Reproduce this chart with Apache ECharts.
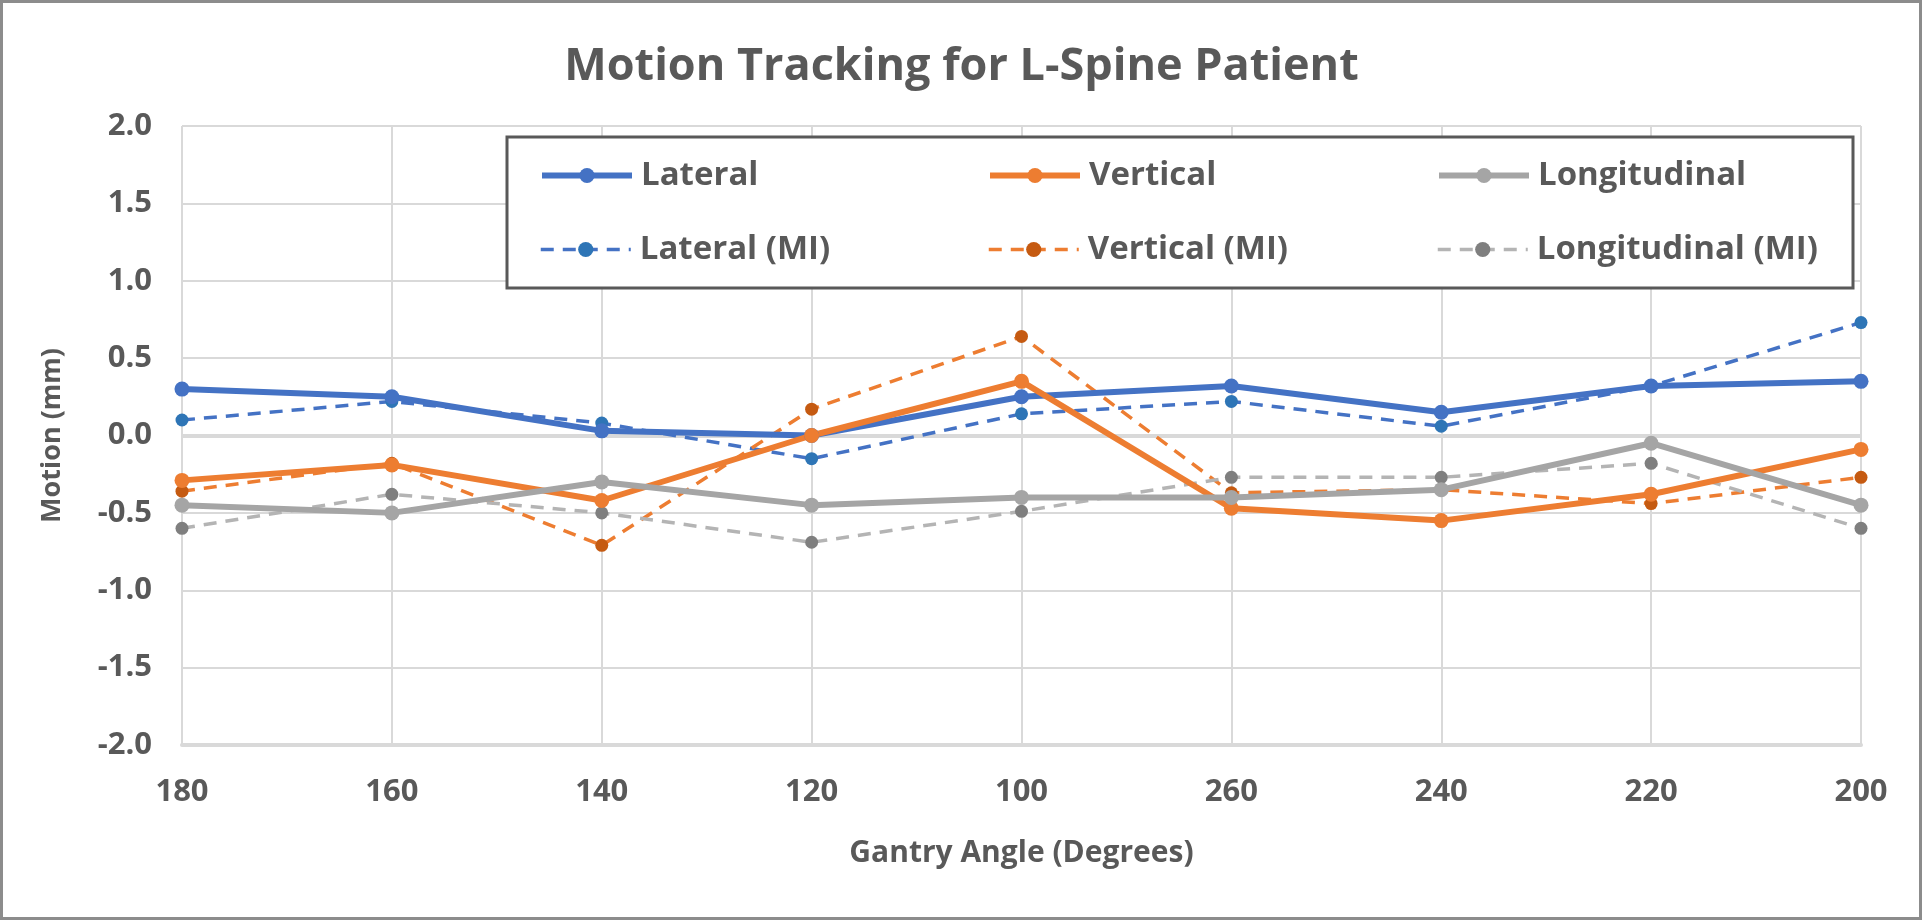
<!DOCTYPE html>
<html>
<head>
<meta charset="utf-8">
<script src="https://cdn.jsdelivr.net/npm/echarts@6/dist/echarts.min.js"></script>
<style>
html,body{margin:0;padding:0;background:#fff;}
#chart{width:1923px;height:921px;}
</style>
</head>
<body>
<div id="chart"></div>
<script>
// Data
const categories = ['180', '160', '140', '120', '100', '260', '240', '220', '200'];
const lateral = [0.30, 0.25, 0.03, 0.00, 0.25, 0.32, 0.15, 0.32, 0.35];
const vertical = [-0.29, -0.19, -0.42, 0.00, 0.35, -0.47, -0.55, -0.38, -0.09];
const longitudinal = [-0.45, -0.50, -0.30, -0.45, -0.40, -0.40, -0.35, -0.05, -0.45];
const lateralMI = [0.10, 0.22, 0.08, -0.15, 0.14, 0.22, 0.06, 0.32, 0.73];
const verticalMI = [-0.36, -0.18, -0.71, 0.17, 0.64, -0.37, -0.35, -0.44, -0.27];
const longitudinalMI = [-0.60, -0.38, -0.50, -0.69, -0.49, -0.27, -0.27, -0.18, -0.60];
const yTicks = { min: -2.0, max: 2.0, interval: 0.5 };

const FONT = '"Open Sans", "Noto Sans", sans-serif';
const TXT = '#595959';

const chart = echarts.init(document.getElementById('chart'), null, { renderer: 'canvas' });

function solid(name, data, color) {
  return {
    name, type: 'line', data, z: 3,
    symbol: 'circle', symbolSize: 15,
    lineStyle: { color, width: 6 },
    itemStyle: { color },
    emphasis: { disabled: true }
  };
}
function dashed(name, data, lineColor, markerColor) {
  return {
    name, type: 'line', data, z: 2,
    symbol: 'circle', symbolSize: 13,
    lineStyle: { color: lineColor, width: 3.5, type: [13, 9] },
    itemStyle: { color: markerColor },
    emphasis: { disabled: true }
  };
}

function legendItem(name, left, top, lineWidth, dash) {
  return {
    data: [name], left, top, padding: 0,
    itemWidth: 90, itemHeight: 19, itemGap: 0,
    selectedMode: false,
    lineStyle: { width: lineWidth, type: dash },
    textStyle: { fontFamily: FONT, fontWeight: 'bold', fontSize: 33, color: TXT, padding: [0, 0, 0, 4] }
  };
}

const seriesList = [
  dashed('Lateral (MI)', lateralMI, '#4472C4', '#2E75B6'),
  dashed('Vertical (MI)', verticalMI, '#ED7D31', '#C55A11'),
  dashed('Longitudinal (MI)', longitudinalMI, '#B4B4B4', '#7F7F7F'),
  solid('Lateral', lateral, '#4472C4'),
  solid('Vertical', vertical, '#ED7D31'),
  solid('Longitudinal', longitudinal, '#A5A5A5')
];
// zero line (horizontal axis crossing at 0)
seriesList[0].markLine = {
  silent: true, symbol: 'none', label: { show: false }, z: 1,
  lineStyle: { color: '#D9D9D9', width: 4, type: 'solid' },
  data: [{ yAxis: 0 }]
};

const option = {
  backgroundColor: '#ffffff',
  animation: false,
  title: {
    text: 'Motion Tracking for L-Spine Patient',
    left: 'center', top: 40,
    textStyle: { fontFamily: FONT, fontWeight: 'bold', fontSize: 45, color: TXT }
  },
  graphic: [
    { type: 'rect', z: 100, zlevel: 0, silent: true,
      shape: { x: 1.5, y: 1.5, width: 1919, height: 917 },
      style: { fill: 'none', stroke: '#8C8C8C', lineWidth: 3 } },
    { type: 'rect', z: 3, silent: true,
      shape: { x: 507, y: 137, width: 1346, height: 151 },
      style: { fill: '#ffffff', stroke: '#595959', lineWidth: 3 } }
  ],
  legend: [
    legendItem('Lateral', 539, 159, 6, 'solid'),
    legendItem('Vertical', 987, 159, 6, 'solid'),
    legendItem('Longitudinal', 1436, 159, 6, 'solid'),
    legendItem('Lateral (MI)', 539, 233, 3.5, [13, 9]),
    legendItem('Vertical (MI)', 987, 233, 3.5, [13, 9]),
    legendItem('Longitudinal (MI)', 1436, 233, 3.5, [13, 9])
  ],
  grid: { left: 182, right: 62, top: 126, bottom: 176, containLabel: false },
  xAxis: {
    type: 'category', data: categories, boundaryGap: false,
    name: 'Gantry Angle (Degrees)', nameLocation: 'middle', nameGap: 93,
    nameTextStyle: { fontFamily: FONT, fontWeight: 'bold', fontSize: 30, color: TXT },
    axisLine: { show: true, onZero: false, lineStyle: { color: '#D9D9D9', width: 4 } },
    axisTick: { show: false },
    axisLabel: { margin: 32, fontFamily: FONT, fontWeight: 'bold', fontSize: 31, color: TXT },
    splitLine: { show: true, interval: 0, lineStyle: { color: '#D9D9D9', width: 2 } }
  },
  yAxis: {
    type: 'value', min: yTicks.min, max: yTicks.max, interval: yTicks.interval,
    name: 'Motion (mm)', nameLocation: 'middle', nameGap: 116,
    nameTextStyle: { fontFamily: FONT, fontWeight: 'bold', fontSize: 27, color: TXT },
    axisLine: { show: false },
    axisTick: { show: false },
    axisLabel: { margin: 30, fontFamily: FONT, fontWeight: 'bold', fontSize: 31, color: TXT,
      formatter: v => v.toFixed(1) },
    splitLine: { show: true, lineStyle: { color: '#D9D9D9', width: 2 } }
  },
  series: seriesList
};

chart.setOption(option);
</script>
</body>
</html>
